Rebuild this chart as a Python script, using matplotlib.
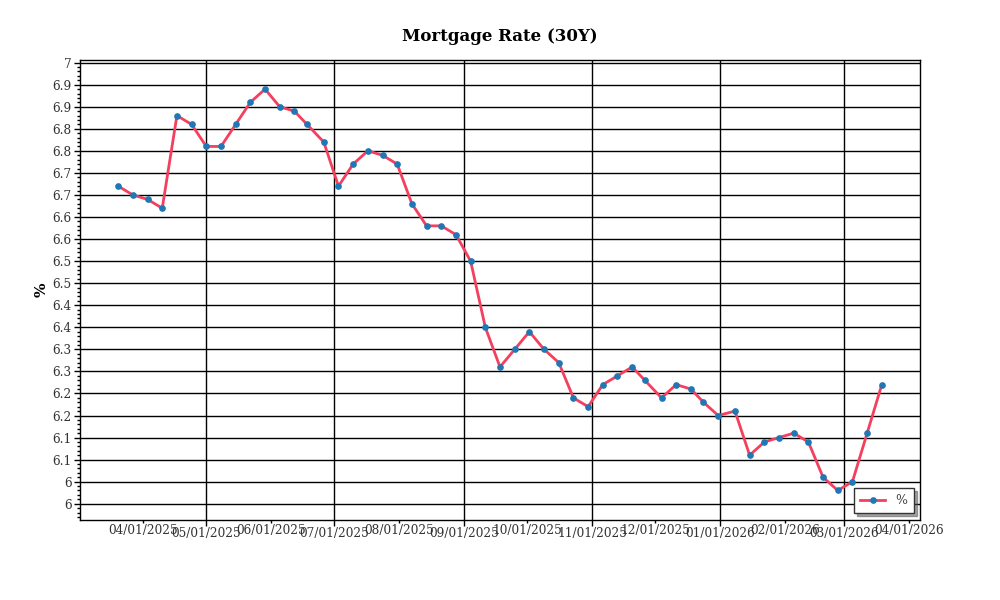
import math
import matplotlib
matplotlib.use("Agg")
import matplotlib.pyplot as plt
import matplotlib.dates as mdates
from matplotlib.ticker import MultipleLocator, FuncFormatter
import pandas as pd

plt.rcParams["font.family"] = ["DejaVu Serif"]

dates = ["2025-03-20", "2025-03-27", "2025-04-03", "2025-04-10", "2025-04-17", "2025-04-24",
         "2025-05-01", "2025-05-08", "2025-05-15", "2025-05-22", "2025-05-29", "2025-06-05",
         "2025-06-12", "2025-06-18", "2025-06-26", "2025-07-03", "2025-07-10", "2025-07-17",
         "2025-07-24", "2025-07-31", "2025-08-07", "2025-08-14", "2025-08-21", "2025-08-28",
         "2025-09-04", "2025-09-11", "2025-09-18", "2025-09-25", "2025-10-02", "2025-10-09",
         "2025-10-16", "2025-10-23", "2025-10-30", "2025-11-06", "2025-11-13", "2025-11-20",
         "2025-11-26", "2025-12-04", "2025-12-11", "2025-12-18", "2025-12-24", "2025-12-31",
         "2026-01-08", "2026-01-15", "2026-01-22", "2026-01-29", "2026-02-05", "2026-02-12",
         "2026-02-19", "2026-02-26", "2026-03-05", "2026-03-12", "2026-03-19"]
rates = [6.67, 6.65, 6.64, 6.62, 6.83, 6.81,
         6.76, 6.76, 6.81, 6.86, 6.89, 6.85,
         6.84, 6.81, 6.77, 6.67, 6.72, 6.75,
         6.74, 6.72, 6.63, 6.58, 6.58, 6.56,
         6.50, 6.35, 6.26, 6.30, 6.34, 6.30,
         6.27, 6.19, 6.17, 6.22, 6.24, 6.26,
         6.23, 6.19, 6.22, 6.21, 6.18, 6.15,
         6.16, 6.06, 6.09, 6.10, 6.11, 6.09,
         6.01, 5.98, 6.00, 6.11, 6.22]

x = pd.to_datetime(dates)

fig = plt.figure(figsize=(10, 6), dpi=100)
ax = fig.add_axes([0.08, 0.134, 0.84, 0.766])

ax.plot(x, rates, color="#f43f5e", linewidth=2.0, marker="o", markersize=3.8,
        markerfacecolor="#1f77b4", markeredgecolor="#1f77b4", label="%", zorder=3)

ax.set_ylim(5.914, 6.956)

# y ticks every 0.05, labels rounded half-up to one decimal
def ylab(v, pos):
    r = math.floor(v * 10 + 0.5 + 1e-9) / 10
    return "%g" % r

ax.yaxis.set_major_locator(MultipleLocator(0.05))
ax.yaxis.set_minor_locator(MultipleLocator(0.01))
ax.yaxis.set_major_formatter(FuncFormatter(ylab))

# x ticks: major every odd month (with grid), minor on even months
ax.xaxis.set_major_locator(mdates.MonthLocator(bymonth=[1, 3, 5, 7, 9, 11]))
ax.xaxis.set_minor_locator(mdates.MonthLocator(bymonth=[2, 4, 6, 8, 10, 12]))
ax.xaxis.set_major_formatter(mdates.DateFormatter("%m/%d/%Y"))
ax.xaxis.set_minor_formatter(mdates.DateFormatter("%m/%d/%Y"))

ax.tick_params(axis="both", which="major", length=4, width=1, labelsize=8.7,
               labelcolor="#333333", pad=2)
ax.tick_params(axis="x", which="major", pad=1.2)
ax.tick_params(axis="both", which="minor", length=2.5, width=1, labelsize=8.7,
               labelcolor="#333333", pad=0.5)

ax.grid(True, which="major", color="black", linewidth=1.0)
for s in ax.spines.values():
    s.set_linewidth(1.0)

ax.set_title("Mortgage Rate (30Y)", fontsize=12, fontweight="bold", pad=14)
ax.set_ylabel("%", fontsize=11, fontweight="bold", labelpad=3)

leg = ax.legend(loc="lower right", fontsize=9, shadow=True, fancybox=False,
                edgecolor="#333333", framealpha=1, borderpad=0.5, handlelength=2.0)
for t in leg.get_texts():
    t.set_color("#444444")

fig.savefig("out.png", dpi=100)
